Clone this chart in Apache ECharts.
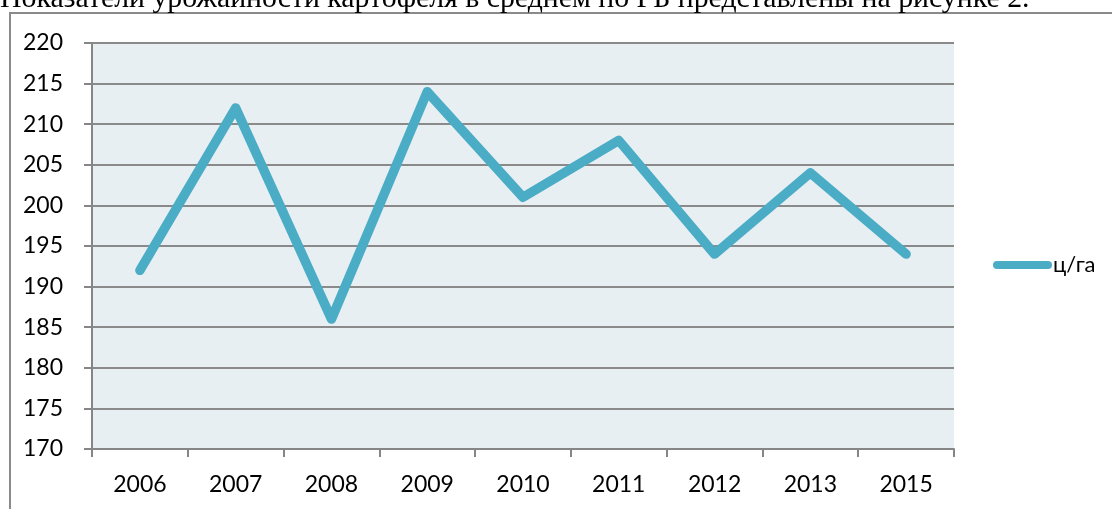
<!DOCTYPE html>
<html>
<head>
<meta charset="utf-8">
<script src="https://cdn.jsdelivr.net/npm/echarts@6/dist/echarts.min.js"></script>
<style>
html,body{margin:0;padding:0;background:#fff;}
#c{width:1112px;height:509px;}
</style>
</head>
<body>
<div id="c"></div>
<script>
const captionText = 'Показатели урожайности картофеля в среднем по РБ представлены на рисунке 2.';
const categories = ['2006','2007','2008','2009','2010','2011','2012','2013','2015'];
const seriesName = 'ц/га';
const values = [192, 212, 186, 214, 201, 208, 194, 204, 194];
const yMin = 170, yMax = 220, yStep = 5;

// fit caption font size to the target width
const cv = document.createElement('canvas').getContext('2d');
cv.font = '100px "Liberation Serif"';
const capSize = Math.round(100 * 1028 / cv.measureText(captionText).width * 10) / 10;

const chart = echarts.init(document.getElementById('c'), null, {renderer:'canvas'});
const font = 'Lato';
chart.setOption({
  animation: false,
  backgroundColor: '#ffffff',
  graphic: [
    {type:'rect', shape:{x:10, y:13, width:1300, height:700}, style:{fill:'none', stroke:'#8a8a8a', lineWidth:2}, z:0},
    {type:'text', x:0, y:-16, style:{text:captionText, font: capSize + 'px "Liberation Serif"', fill:'#000'}, z:10}
  ],
  grid: {left:92, top:43, right:158, bottom:60, show:true, backgroundColor:'#E8EFF3', borderWidth:0},
  legend: {
    left: 988, top: 249,
    data: [{name: seriesName, icon:'path://M4,0 L55,0 A4,4 0 0 1 55,8 L4,8 A4,4 0 0 1 4,0 Z'}],
    itemWidth: 59, itemHeight: 8.5,
    textStyle: {fontFamily: font, fontSize: 22, color:'#000', padding:[0,0,0,-4]},
    itemStyle: {color:'#4BACC6'}
  },
  xAxis: {
    type:'category', data: categories, boundaryGap:true,
    axisLine:{show:true, lineStyle:{color:'#868686', width:2}},
    axisTick:{show:true, length:8, lineStyle:{color:'#868686', width:2}},
    axisLabel:{fontFamily:font, fontSize:23, color:'#000', margin:24},
    splitLine:{show:false}
  },
  yAxis: {
    type:'value', min:yMin, max:yMax, interval:yStep,
    axisLine:{show:true, lineStyle:{color:'#868686', width:2}},
    axisTick:{show:true, length:8, lineStyle:{color:'#868686', width:2}},
    axisLabel:{fontFamily:font, fontSize:23, color:'#000', margin:29},
    splitLine:{show:true, lineStyle:{color:'#8a8a8a', width:2}}
  },
  series: [{
    name: seriesName, type:'line', data: values, smooth:false,
    symbol:'none', showSymbol:false,
    itemStyle:{color:'#4BACC6'},
    lineStyle:{color:'#4BACC6', width:9.5, cap:'round', join:'round'}
  }]
});
</script>
</body>
</html>
